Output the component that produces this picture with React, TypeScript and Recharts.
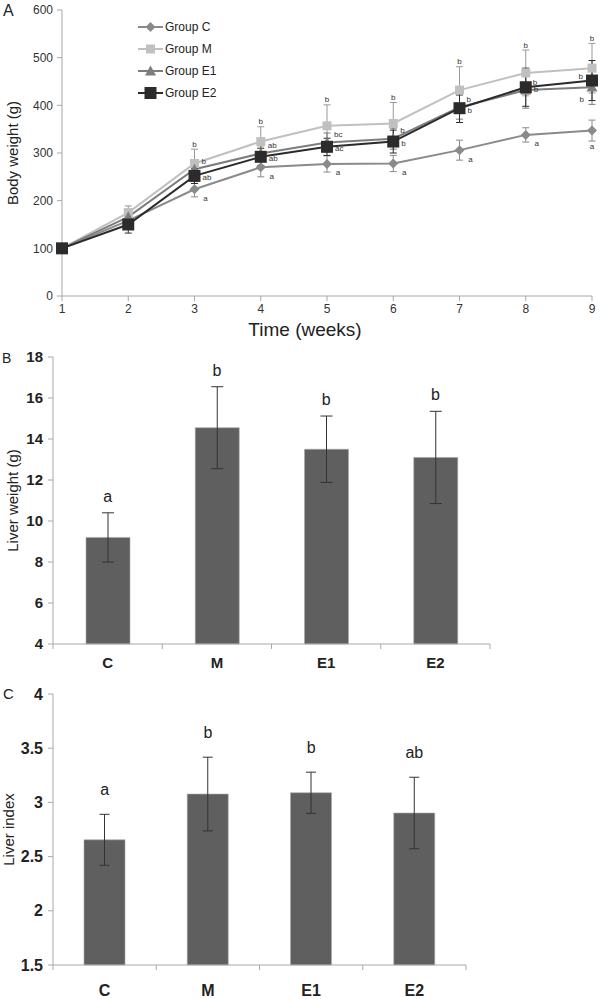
import React from 'react';
import { ComposedChart, LineChart, Line, Bar, XAxis, YAxis, ErrorBar, LabelList, Legend } from 'recharts';

const FONT = 'Liberation Sans, Arial, sans-serif';

// ---------- Panel A: body weight ----------
const weeks = [1, 2, 3, 4, 5, 6, 7, 8, 9];
const bodyTicks = [0, 100, 200, 300, 400, 500, 600];
const groupC = [100, 158, 224, 270, 277, 278, 306, 338, 347];
const groupCErr = [6, 12, 16, 20, 17, 17, 21, 15, 22];
const groupM = [100, 175, 278, 324, 357, 362, 432, 468, 478];
const groupMErr = [6, 14, 30, 31, 44, 44, 49, 48, 52];
const groupE1 = [100, 166, 266, 299, 322, 330, 396, 432, 438];
const groupE1Err = [6, 12, 15, 16, 20, 22, 25, 38, 36];
const groupE2 = [100, 150, 252, 292, 313, 324, 394, 438, 452];
const groupE2Err = [6, 18, 16, 18, 18, 24, 30, 40, 42];
const sigC = ['', '', 'a', 'a', 'a', 'a', 'a', 'a', 'a'];
const sigM = ['', '', 'b', 'b', 'b', 'b', 'b', 'b', 'b'];
const sigE1 = ['', '', 'b', 'ab', 'bc', 'b', 'b', 'b', 'b'];
const sigE2 = ['', '', 'ab', 'ab', 'ac', 'b', 'b', 'b', 'b'];

const bodyData = weeks.map((w, i) => ({
  week: w,
  c: groupC[i], cErr: groupCErr[i], cSig: sigC[i],
  m: groupM[i], mErr: groupMErr[i], mSig: sigM[i], mTop: groupM[i] + groupMErr[i],
  e1: groupE1[i], e1Err: groupE1Err[i], e1Sig: sigE1[i],
  e2: groupE2[i], e2Err: groupE2Err[i], e2Sig: sigE2[i],
}));

// ---------- Panel B / C: liver ----------
const liverGroups = ['C', 'M', 'E1', 'E2'];
const liverWeight = [9.2, 14.55, 13.5, 13.1];
const liverWeightErr = [1.2, 2.0, 1.62, 2.25];
const liverWeightSig = ['a', 'b', 'b', 'b'];
const liverWeightTicks = [4, 6, 8, 10, 12, 14, 16, 18];
const liverIndex = [2.655, 3.077, 3.089, 2.902];
const liverIndexErr = [0.235, 0.34, 0.19, 0.33];
const liverIndexSig = ['a', 'b', 'b', 'ab'];
const liverIndexTicks = [1.5, 2, 2.5, 3, 3.5, 4];
const catTicks = [0, 0.5, 1, 1.5, 2, 2.5, 3, 3.5, 4];

const weightData = liverGroups.map((g, i) => ({
  pos: i + 0.5, group: g, value: liverWeight[i], err: liverWeightErr[i],
  top: liverWeight[i] + liverWeightErr[i], sig: liverWeightSig[i],
}));
const indexData = liverGroups.map((g, i) => ({
  pos: i + 0.5, group: g, value: liverIndex[i], err: liverIndexErr[i],
  top: liverIndex[i] + liverIndexErr[i], sig: liverIndexSig[i],
}));

// ---------- styles ----------
const colC = '#8a8a8a';
const colM = '#c0c0c0';
const colE1 = '#7d7d7d';
const colE2 = '#2b2b2b';
const axisCol = '#a8a8a8';

const legendItems = [
  { name: 'Group C', color: colC, shape: 'diamond' },
  { name: 'Group M', color: colM, shape: 'square' },
  { name: 'Group E1', color: colE1, shape: 'triangle' },
  { name: 'Group E2', color: colE2, shape: 'bigsquare' },
];

function shapePath(shape: string, cx: number, cy: number) {
  if (shape === 'diamond') { const r = 5; return `M${cx},${cy - r}L${cx + r},${cy}L${cx},${cy + r}L${cx - r},${cy}Z`; }
  if (shape === 'square') { const r = 4.5; return `M${cx - r},${cy - r}h${2 * r}v${2 * r}h${-2 * r}Z`; }
  if (shape === 'triangle') { const r = 5.5; return `M${cx},${cy - r}L${cx + r},${cy + r * 0.8}L${cx - r},${cy + r * 0.8}Z`; }
  const r = 6; return `M${cx - r},${cy - r}h${2 * r}v${2 * r}h${-2 * r}Z`;
}

const makeDot = (shape: string, fill: string) => (p: any) => {
  const { cx, cy, index } = p;
  if (cx == null || cy == null) return <g key={`e${index}`} />;
  return <path key={`${shape}${index}`} d={shapePath(shape, cx, cy)} fill={fill} stroke="none" />;
};

const makeSig = (dx: number, dy: number, lastDx: number, lastDy: number, anchor: string, lastAnchor: string) => (p: any) => {
  const vb = p.viewBox || {};
  const x = p.x ?? vb.x;
  const y = p.y ?? vb.y;
  const v = p.value;
  if (!v || x == null || y == null) return null;
  const last = p.index === weeks.length - 1;
  return (
    <text x={x + (last ? lastDx : dx)} y={y + (last ? lastDy : dy)} textAnchor={last ? lastAnchor : anchor}
      dominantBaseline="central" fontSize={8} fill="#333" fontFamily={FONT}>{v}</text>
  );
};

const renderLegend = () => (
  <div style={{ fontFamily: FONT, fontSize: 12, color: '#222' }}>
    {legendItems.map((it) => (
      <div key={it.name} style={{ display: 'flex', alignItems: 'center', height: 22 }}>
        <svg width={27} height={16} style={{ display: 'block' }}>
          <line x1={1} x2={26} y1={8} y2={8} stroke={it.color} strokeWidth={2} />
          <path d={shapePath(it.shape, 13.5, 8)} fill={it.color} />
        </svg>
        <span style={{ marginLeft: 1 }}>{it.name}</span>
      </div>
    ))}
  </div>
);

const makeCatTick = (labels: string[], fontSize: number, dy: number) => (p: any) => {
  const { x, y, payload } = p;
  const v = payload.value;
  if (Number.isInteger(v)) {
    return <line x1={x} x2={x} y1={y} y2={y + 5} stroke={axisCol} strokeWidth={1} />;
  }
  return (
    <text x={x} y={y + dy} textAnchor="middle" fontSize={fontSize} fontWeight="bold" fill="#222" fontFamily={FONT}>
      {labels[Math.floor(v)]}
    </text>
  );
};

const panelLetter = (t: string, left: number, top: number, size: number) => (
  <div style={{ position: 'absolute', left, top, fontSize: size, lineHeight: 1, fontFamily: FONT, color: '#222' }}>{t}</div>
);

export default function App() {
  return (
    <div style={{ position: 'absolute', left: 0, top: 0, width: 600, height: 999, background: '#fff', overflow: 'hidden', fontFamily: FONT }}>
      {/* Panel A */}
      <div style={{ position: 'absolute', left: 0, top: 0 }}>
        <LineChart width={600} height={340} data={bodyData} margin={{ top: 10, right: 8, bottom: 0, left: 0 }}>
          <XAxis dataKey="week" type="number" domain={[1, 9]} ticks={weeks} interval={0} height={44}
            tick={{ fontSize: 12, fill: '#333', fontFamily: FONT }} tickLine={{ stroke: axisCol }} axisLine={{ stroke: axisCol }}
            tickSize={5} tickMargin={3}
            label={{ value: 'Time (weeks)', position: 'insideBottom', offset: 4, dx: -22, style: { fontSize: 19, fill: '#222', fontFamily: FONT } }} />
          <YAxis type="number" domain={[0, 600]} ticks={bodyTicks} interval={0} width={62}
            tick={{ fontSize: 12, fill: '#333', fontFamily: FONT }} tickLine={{ stroke: axisCol }} axisLine={{ stroke: axisCol }}
            tickSize={5} tickMargin={4}
            label={{ value: 'Body weight (g)', angle: -90, position: 'insideLeft', offset: 13, style: { textAnchor: 'middle', fontSize: 15, fill: '#222', fontFamily: FONT } }} />
          <Legend content={renderLegend} layout="vertical" verticalAlign="middle" align="center"
            wrapperStyle={{ left: 137, top: 16, width: 110 }} />
          <Line dataKey="c" stroke={colC} strokeWidth={2} dot={makeDot('diamond', colC)} activeDot={false} isAnimationActive={false}>
            <ErrorBar dataKey="cErr" direction="y" width={3.5} stroke={colC} strokeWidth={1} />
            <LabelList dataKey="cSig" content={makeSig(11, 9, 0, 16, 'middle', 'middle')} />
          </Line>
          <Line dataKey="m" stroke={colM} strokeWidth={2} dot={makeDot('square', colM)} activeDot={false} isAnimationActive={false}>
            <ErrorBar dataKey="mErr" direction="y" width={3.5} stroke="#999" strokeWidth={1} />
          </Line>
          <Line dataKey="e1" stroke={colE1} strokeWidth={2} dot={makeDot('triangle', colE1)} activeDot={false} isAnimationActive={false}>
            <ErrorBar dataKey="e1Err" direction="y" width={3.5} stroke={colE1} strokeWidth={1} />
            <LabelList dataKey="e1Sig" content={makeSig(7, -8, -9, -11, 'start', 'end')} />
          </Line>
          <Line dataKey="e2" stroke={colE2} strokeWidth={2} dot={makeDot('bigsquare', colE2)} activeDot={false} isAnimationActive={false}>
            <ErrorBar dataKey="e2Err" direction="y" width={3.5} stroke={colE2} strokeWidth={1} />
            <LabelList dataKey="e2Sig" content={makeSig(8, 2, -8, 19, 'start', 'end')} />
          </Line>
          <Line dataKey="mTop" stroke="none" dot={false} activeDot={false} legendType="none" isAnimationActive={false}>
            <LabelList dataKey="mSig" content={makeSig(0, -5, 0, -5, 'middle', 'middle')} />
          </Line>
        </LineChart>
      </div>
      {panelLetter('A', 3, 3, 16)}

      {/* Panel B */}
      <div style={{ position: 'absolute', left: 0, top: 340 }}>
        <ComposedChart width={600} height={340} data={weightData} margin={{ top: 17, right: 110, bottom: 0, left: 0 }}>
          <XAxis dataKey="pos" type="number" domain={[0, 4]} ticks={catTicks} interval={0} height={36}
            tick={makeCatTick(liverGroups, 15, 24)} tickLine={false} tickSize={0} tickMargin={0} axisLine={{ stroke: axisCol }} />
          <YAxis type="number" domain={[4, 18]} ticks={liverWeightTicks} interval={0} width={53}
            tick={{ fontSize: 15, fontWeight: 'bold', fill: '#222', fontFamily: FONT }} tickLine={{ stroke: axisCol }} axisLine={{ stroke: axisCol }}
            tickSize={5} tickMargin={5}
            label={{ value: 'Liver weight (g)', angle: -90, position: 'insideLeft', offset: 13, style: { textAnchor: 'middle', fontSize: 15, fill: '#222', fontFamily: FONT } }} />
          <Bar dataKey="value" barSize={44} fill="#5f5f5f" stroke="#a8a8a8" strokeWidth={0.6} isAnimationActive={false}>
            <ErrorBar dataKey="err" direction="y" width={6} stroke="#333" strokeWidth={1} />
          </Bar>
          <Line dataKey="top" stroke="none" dot={false} activeDot={false} legendType="none" isAnimationActive={false}>
            <LabelList dataKey="sig" position="top" offset={11} style={{ fontSize: 16, fill: '#222', fontFamily: FONT }} />
          </Line>
        </ComposedChart>
      </div>
      {panelLetter('B', 2, 351, 14)}

      {/* Panel C */}
      <div style={{ position: 'absolute', left: 0, top: 670 }}>
        <ComposedChart width={600} height={329} data={indexData} margin={{ top: 24, right: 134, bottom: 0, left: 0 }}>
          <XAxis dataKey="pos" type="number" domain={[0, 4]} ticks={catTicks} interval={0} height={34}
            tick={makeCatTick(liverGroups, 16, 31)} tickLine={false} tickSize={0} tickMargin={0} axisLine={{ stroke: axisCol }} />
          <YAxis type="number" domain={[1.5, 4]} ticks={liverIndexTicks} interval={0} width={53}
            tick={{ fontSize: 16, fontWeight: 'bold', fill: '#222', fontFamily: FONT }} tickLine={{ stroke: axisCol }} axisLine={{ stroke: axisCol }}
            tickSize={5} tickMargin={5}
            label={{ value: 'Liver index', angle: -90, position: 'insideLeft', offset: 9, style: { textAnchor: 'middle', fontSize: 15, fill: '#222', fontFamily: FONT } }} />
          <Bar dataKey="value" barSize={41} fill="#5f5f5f" stroke="#a8a8a8" strokeWidth={0.6} isAnimationActive={false}>
            <ErrorBar dataKey="err" direction="y" width={5} stroke="#333" strokeWidth={1} />
          </Bar>
          <Line dataKey="top" stroke="none" dot={false} activeDot={false} legendType="none" isAnimationActive={false}>
            <LabelList dataKey="sig" position="top" offset={19} style={{ fontSize: 16, fill: '#222', fontFamily: FONT }} />
          </Line>
        </ComposedChart>
      </div>
      {panelLetter('C', 3, 686, 15)}
    </div>
  );
}
